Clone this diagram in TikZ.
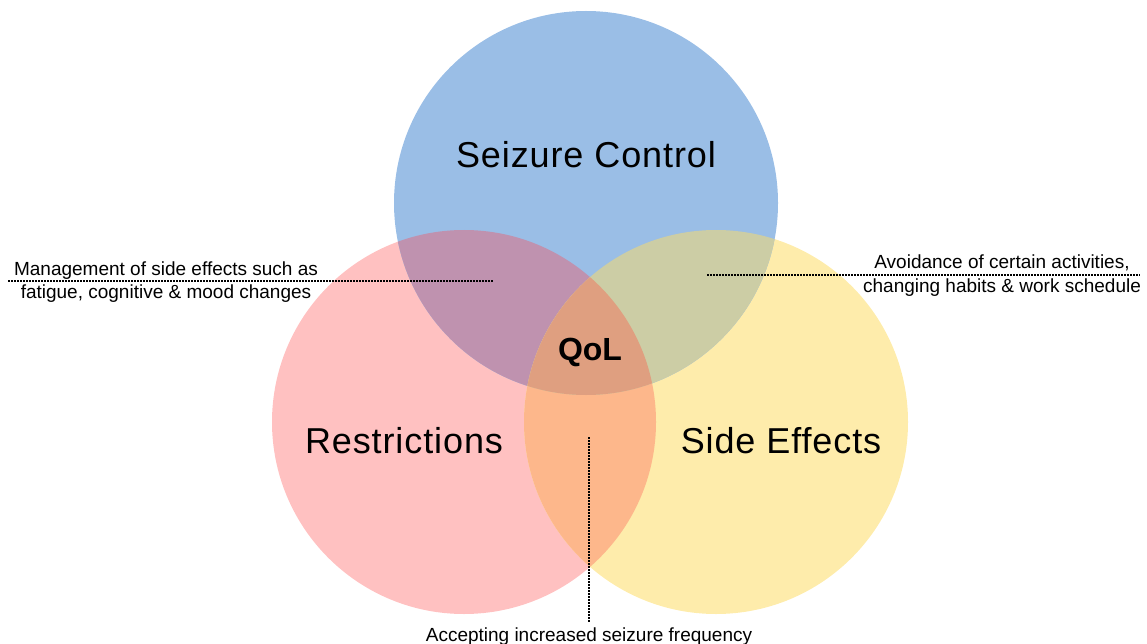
\documentclass[tikz,border=0pt]{standalone}
\usepackage{fontspec}
\setmainfont{Liberation Sans}
\newfontfamily\widesans[LetterSpace=2.5]{Liberation Sans}
\definecolor{blueC}{HTML}{9ABEE6}
\definecolor{pinkC}{HTML}{FFC1C1}
\definecolor{yellowC}{HTML}{FEECAB}
\definecolor{pbC}{HTML}{BF92AF}
\definecolor{byC}{HTML}{CCCDA5}
\definecolor{pyC}{HTML}{FDB78B}
\definecolor{centerC}{HTML}{DF9F80}
\tikzset{
  bigtitle/.style={inner sep=0pt, anchor=base, font=\widesans\fontsize{36}{40}\selectfont},
  qol/.style={inner sep=0pt, anchor=base, font=\fontsize{32}{36}\selectfont\bfseries},
  note/.style={inner sep=0pt, anchor=base, font=\fontsize{19}{24}\selectfont},
  dots/.style={line width=1.5pt, dash pattern=on 1.5pt off 1.5pt, black}
}
\begin{document}
\begin{tikzpicture}[x=1pt,y=-1pt]
\useasboundingbox (0,0) rectangle (1147,644);
\coordinate (bc) at (586,203);
\coordinate (pc) at (464,422);
\coordinate (yc) at (716,422);
% circles
\fill[pinkC] (pc) circle (192pt);
\fill[yellowC] (yc) circle (192pt);
\fill[blueC] (bc) circle (192pt);
% overlaps
\begin{scope}
  \clip (pc) circle (192pt);
  \fill[pbC] (bc) circle (192pt);
  \fill[pyC] (yc) circle (192pt);
\end{scope}
\begin{scope}
  \clip (bc) circle (192pt);
  \fill[byC] (yc) circle (192pt);
\end{scope}
\begin{scope}
  \clip (pc) circle (192pt);
  \clip (bc) circle (192pt);
  \fill[centerC] (yc) circle (192pt);
\end{scope}
% titles
\node[bigtitle] (sc) at (586,168) {Seizure Control};
\node[bigtitle] (re) at (404,453) {Restrictions};
\node[bigtitle] (se) at (781,453) {Side Effects};
\node[qol] (q) at (590,360) {QoL};
% notes
\node[note] (l1) at (166,275) {Management of side effects such as};
\node[note] (l2) at (166,298) {fatigue, cognitive \& mood changes};
\node[note] (r1) at (1002,268) {Avoidance of certain activities,};
\node[note] (r2) at (1002,292) {changing habits \& work schedule};
\node[note] (b1) at (589,641) {Accepting increased seizure frequency};
% dotted leaders
\coordinate (la) at (8,281);
\coordinate (lb) at (493,281);
\coordinate (ra) at (707,275);
\coordinate (rb) at (1140,275);
\coordinate (va) at (589,437);
\coordinate (vb) at (589,622);
\draw[dots] (la) -- (lb);
\draw[dots] (ra) -- (rb);
\draw[dots] (va) -- (vb);
\end{tikzpicture}
\end{document}
